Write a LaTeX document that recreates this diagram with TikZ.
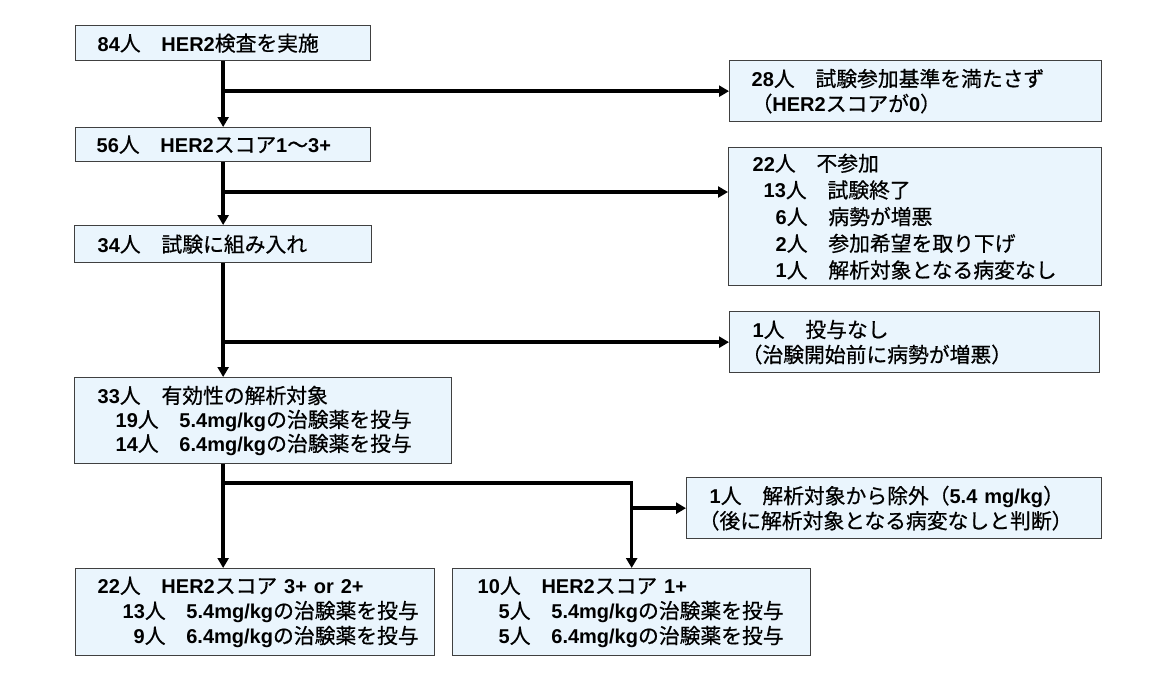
\documentclass[tikz,border=0pt]{standalone}
\usepackage{fontspec}
\setmainfont{Noto Sans CJK JP}[Scale=1.04, FakeBold=0.6]
\newfontfamily\latf{Liberation Sans}
\newcommand\la[1]{{\latf\bfseries #1}}
\usetikzlibrary{arrows.meta}
\definecolor{boxfill}{HTML}{EAF5FD}
\definecolor{boxline}{HTML}{404040}
\tikzset{
  box/.style={draw=boxline, fill=boxfill, line width=1.3pt, anchor=north west,
    align=left, inner ysep=0pt, font=\fontsize{20}{25}\selectfont},
  conn/.style={line width=3.6pt, -{Triangle[width=11pt,length=10pt]}},
}
\begin{document}
\begin{tikzpicture}[x=1pt,y=-1pt]
\useasboundingbox (0,0) rectangle (1150,691);
% left column
\node[box, inner xsep=22pt, text width=251pt, minimum height=35pt] (b1) at (75,25)
  {\la{84}人　\la{HER2}検査を実施};
\node[box, inner xsep=21pt, text width=253pt, minimum height=34pt] (b2) at (75,127)
  {\la{56}人　\la{HER2}スコア\la{1}～\la{3+}};
\node[box, inner xsep=23pt, text width=251pt, minimum height=37pt] (b3) at (74,225)
  {\la{34}人　試験に組み入れ};
\node[box, inner xsep=23pt, text width=331pt, minimum height=86pt, font=\fontsize{20}{24}\selectfont] (b4) at (74,377)
  {\la{33}人　有効性の解析対象\\
   \hspace*{18pt}\la{19}人　\la{5.4mg/kg}の治験薬を投与\\
   \hspace*{18pt}\la{14}人　\la{6.4mg/kg}の治験薬を投与};
\node[box, inner xsep=22pt, text width=315pt, minimum height=87pt] (bl) at (75,568)
  {\la{22}人　\la{HER2}スコア \la{3+ or 2+}\\
   \hspace*{25pt}\la{13}人　\la{5.4mg/kg}の治験薬を投与\\
   \hspace*{36pt}\la{9}人　\la{6.4mg/kg}の治験薬を投与};
\node[box, inner xsep=25pt, text width=308pt, minimum height=87pt] (br) at (452,568)
  {\la{10}人　\la{HER2}スコア \la{1+}\\
   \hspace*{21pt}\la{5}人　\la{5.4mg/kg}の治験薬を投与\\
   \hspace*{21pt}\la{5}人　\la{6.4mg/kg}の治験薬を投与};
% right column
\node[box, inner xsep=22pt, text width=328pt, minimum height=61pt] (r1) at (729,60)
  {\la{28}人　試験参加基準を満たさず\\
   （\la{HER2}スコアが\la{0}）};
\node[box, inner xsep=24pt, text width=325pt, minimum height=138pt, font=\fontsize{20}{26.7}\selectfont] (r2) at (728,147)
  {\la{22}人　不参加\\
   \hspace*{11pt}\la{13}人　試験終了\\
   \hspace*{23pt}\la{6}人　病勢が増悪\\
   \hspace*{23pt}\la{2}人　参加希望を取り下げ\\
   \hspace*{23pt}\la{1}人　解析対象となる病変なし};
\node[box, inner xsep=23pt, text width=324pt, minimum height=61pt] (r3) at (729,311)
  {\la{1}人　投与なし\\
   \hspace*{-11pt}（治験開始前に病勢が増悪）};
\node[box, inner xsep=23pt, text width=369pt, minimum height=61pt] (r4) at (686,477)
  {\la{1}人　解析対象から除外（\la{5.4 mg/kg}）\\
   \hspace*{-11pt}（後に解析対象となる病変なしと判断）};
% connectors
\draw[conn] (b1.south) -- (b2.north);
\draw[conn] (b1.south |- r1.west) -- (r1.west);
\draw[conn] (b2.south) -- (b3.north);
\coordinate (k2) at (222.5,192);
\draw[conn] (k2) -- (k2 -| r2.west);
\draw[conn] (b3.south) -- (b3.south |- b4.north);
\draw[conn] (b3.south |- r3.west) -- (r3.west);
\draw[conn] (b3.south |- b4.south) -- (b3.south |- bl.north);
\coordinate (k4) at (222.5,483);
\draw[conn] (k4) -- (k4 -| br.north) -- (br.north);
\draw[conn] (br.north |- r4.west) -- (r4.west);
\end{tikzpicture}
\end{document}
